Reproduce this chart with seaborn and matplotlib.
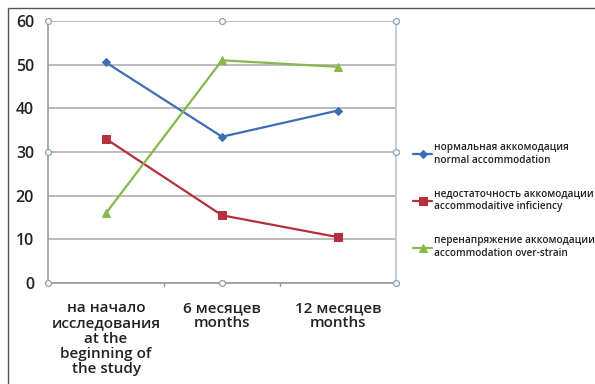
import matplotlib
matplotlib.use("Agg")
import matplotlib.pyplot as plt
import seaborn as sns
import pandas as pd
from matplotlib.patches import Rectangle

periods = [
    "на начало\nисследования\nat the\nbeginning of\nthe study",
    "6 месяцев\nmonths",
    "12 месяцев\nmonths",
]
series_names = [
    "нормальная аккомодация\nnormal accommodation",
    "недостаточность аккомодации\naccommodaitive inficiency",
    "перенапряжение аккомодации\naccommodation over-strain",
]
normal = [50.5, 33.5, 39.5]
insufficiency = [33.0, 15.5, 10.5]
overstrain = [16.0, 51.0, 49.5]
y_ticks = [0, 10, 20, 30, 40, 50, 60]

colors = ["#3d6db4", "#b5303a", "#86b94a"]
markers = ["D", "s", "^"]
msizes = [4, 6, 6]

rows = []
for name, vals in zip(series_names, [normal, insufficiency, overstrain]):
    for i, v in enumerate(vals):
        rows.append({"period": i, "value": v, "series": name})
df = pd.DataFrame(rows)

sns.set_theme(style="white")
plt.rcParams["font.family"] = ["Open Sans", "DejaVu Sans"]

fig = plt.figure(figsize=(5.95, 3.84), dpi=100)
ax = fig.add_axes([48 / 595, 1 - 283 / 384, 348 / 595, 262 / 384])

for name, c, m, ms in zip(series_names, colors, markers, msizes):
    sub = df[df["series"] == name]
    sns.lineplot(data=sub, x="period", y="value", ax=ax, color=c, lw=1.6,
                 marker=m, markersize=ms, markeredgecolor=c, label=name,
                 legend=False)

ax.set_xlim(-0.5, 2.5)
ax.set_ylim(0, 60)
ax.set_yticks(y_ticks)
ax.set_yticklabels([str(t) for t in y_ticks], fontsize=11.5, color="#222222",
                   fontweight="semibold")
ax.set_xticks([0, 1, 2])
ax.set_xticklabels(periods, fontsize=11, color="#222222", linespacing=1.12,
                   fontweight="semibold")
ax.set_xlabel("")
ax.set_ylabel("")
ax.grid(axis="y", color="#a8a8a8", lw=1.1)
ax.set_axisbelow(True)
for s in ["top", "right"]:
    ax.spines[s].set_visible(False)
for s in ["left", "bottom"]:
    ax.spines[s].set_color("#9a9a9a")
    ax.spines[s].set_linewidth(1.2)
ax.tick_params(axis="y", length=0, pad=10)
ax.tick_params(axis="x", length=0, pad=13)
# category separators on the x axis
for xb in [0.5, 1.5]:
    ax.plot([xb, xb], [0, -0.8], color="#9a9a9a", lw=1, clip_on=False)

# right border of the plot area and selection handles
ax.plot([2.5, 2.5], [0, 60], color="#b8c4d4", lw=1.2, clip_on=False)
hx = [-0.5, 1, 2.5, 2.5, 2.5, 1, -0.5, -0.5]
hy = [60, 60, 60, 30, 0, 0, 0, 30]
ax.scatter(hx, hy, s=18, facecolor="white", edgecolor="#8aa0bc", lw=0.9,
           zorder=5, clip_on=False)

handles, labels = ax.get_legend_handles_labels()
leg = fig.legend(handles, labels, loc="upper left",
                 bbox_to_anchor=(409 / 595, 1 - 138 / 384), frameon=False,
                 fontsize=7.2, handlelength=1.9, handletextpad=0.15,
                 labelspacing=2.3, borderaxespad=0)
for t in leg.get_texts():
    t.set_color("#222222")
    t.set_fontweight("semibold")

# outer chart frame
fig.patches.append(Rectangle((8 / 595, -0.05), 1.0, 1 - 8 / 384 + 0.05,
                             transform=fig.transFigure, fill=False,
                             edgecolor="#555555", lw=1.0))

fig.savefig("out.png", dpi=100)
